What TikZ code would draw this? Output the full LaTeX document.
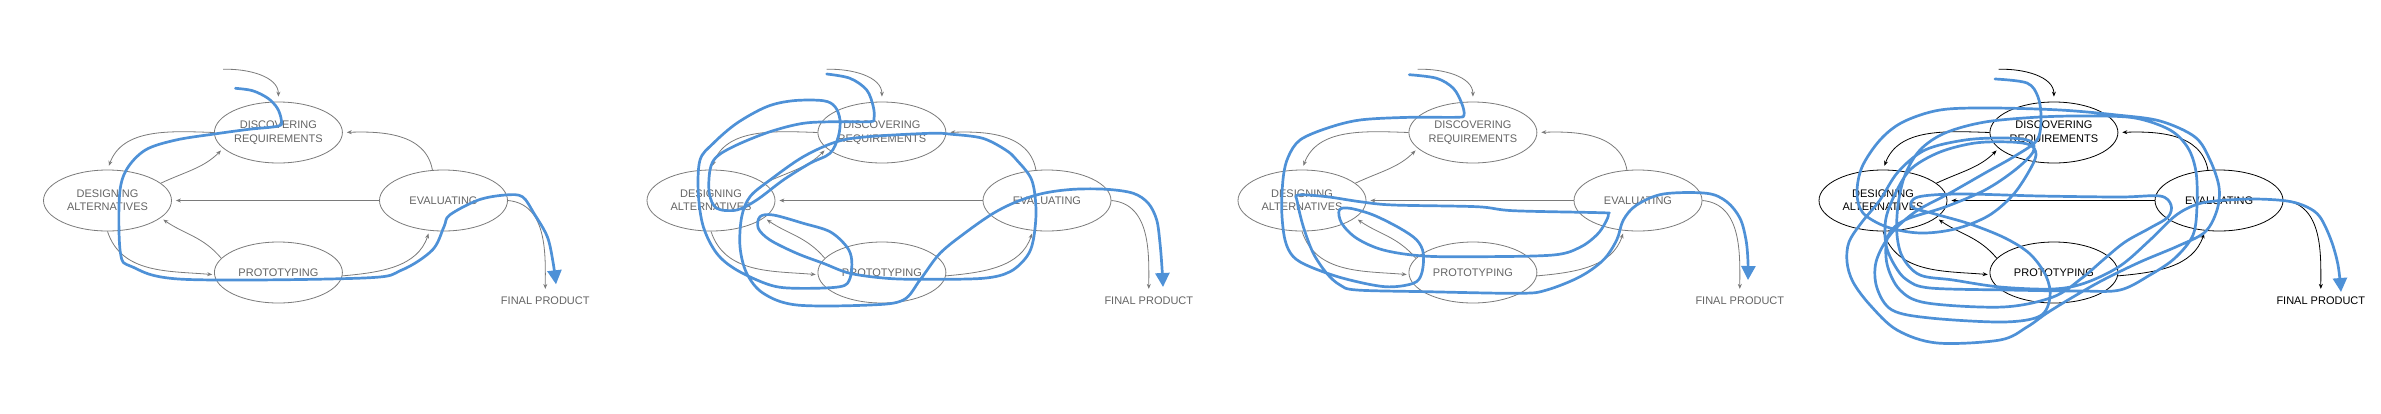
\documentclass[tikz,border=0pt]{standalone}
\usepackage{fontspec}
\setmainfont{Liberation Sans}
\usepackage{tikz}
\usetikzlibrary{shapes.geometric, arrows.meta}
\definecolor{linegray}{RGB}{122,122,122}
\definecolor{textgray}{RGB}{100,100,100}
\definecolor{penblue}{RGB}{78,145,215}
\tikzstyle{stage} = [ellipse, minimum width=128pt, minimum height=61pt, inner sep=0pt, align=center, line width=0.8pt, font=\fontsize{11}{13.4}\selectfont]
\tikzstyle{flow} = [line width=0.8pt, -{Stealth[length=5pt,width=4pt]}]
\tikzstyle{scribble} = [penblue, line width=2.7pt, line cap=round, line join=round, -{Triangle[length=14pt,width=14pt]}]

\begin{document}
\begin{tikzpicture}[x=1pt,y=1pt]
\useasboundingbox (0,0) rectangle (2381,-413);
% the same cycle four times, the last one in black
\foreach \i/\dx/\lc/\tc in {1/0/linegray/textgray, 2/603.5/linegray/textgray, 3/1194.5/linegray/textgray, 4/1775.5/black/black} {
\begin{scope}[xshift=\dx pt]
\node (disc\i) [stage, draw=\lc, text=\tc] at (278.4,-132.5) {DISCOVERING\\REQUIREMENTS};
\node (design\i) [stage, draw=\lc, text=\tc] at (107.5,-200.5) {DESIGNING\\ALTERNATIVES};
\node (eval\i) [stage, draw=\lc, text=\tc] at (443.5,-200.5) {EVALUATING};
\node (proto\i) [stage, draw=\lc, text=\tc] at (278.4,-272.5) {PROTOTYPING};
\node (final\i) [text=\tc, inner sep=0pt, font=\fontsize{11}{13.4}\selectfont] at (545.3,-301) {FINAL PRODUCT};
\coordinate (in\i) at (223.1,-69.3);
\draw [flow, \lc, shorten >=5pt] (in\i) to[out=2,in=90] (disc\i.north);
\draw [flow, \lc, shorten >=4pt] (disc\i.west) to[out=178,in=70] (design\i.north);
\draw [flow, \lc, shorten >=3pt] (design\i.18) to[out=25,in=225] (disc\i.196);
\draw [flow, \lc, shorten >=4pt] (eval\i.110) to[out=100,in=2] (disc\i.east);
\draw [flow, \lc, shorten >=4pt] (eval\i.west) -- (design\i.east);
\draw [flow, \lc, shorten >=2pt] (design\i.south) to[out=-72,in=175] (proto\i.182);
\draw [flow, \lc, shorten >=3pt] (proto\i.166) to[out=130,in=-35] (design\i.-18);
\draw [flow, \lc, shorten >=3pt] (proto\i.-3) to[out=5,in=-108] (eval\i.-115);
\draw [flow, \lc, shorten >=8pt] (eval\i.east) to[out=-5,in=90] (final\i.north);
\end{scope}
}

% pen traces
\draw [scribble] plot[smooth, tension=0.55] coordinates {(235.4,-88.3) (252.6,-90.7) (268,-98.3) (277.4,-108.3) (281.3,-120) (278.6,-126) (248.8,-129.3) (214.3,-134) (176,-140) (145.4,-150) (126.3,-170) (119.4,-196.7) (120.5,-253.3) (132,-266.7) (183.7,-279.3) (363.6,-278) (401.8,-270) (432.4,-250) (444,-226.7) (449.7,-215) (478.4,-200) (505.2,-195) (522.4,-196.7) (533.9,-213.3) (547.3,-236.7) (553,-262) (556,-284.3)};

\draw [scribble] plot[smooth, tension=0.55] coordinates {(826.7,-74) (850,-78.3) (866.7,-90) (873.3,-106.7) (874,-118.3) (870,-121.7) (836.7,-121.7) (803.3,-123.3) (770,-131.7) (736.7,-145) (716.7,-156.7) (710,-170) (709.3,-193.3) (716.7,-208.3) (736.7,-210) (756.7,-200) (783.3,-180) (810,-163.3) (830,-153.3) (838.3,-136.7) (840,-120) (835,-106.7) (823.3,-100.7) (793.3,-100.7) (766.7,-106.7) (736.7,-123.3) (713.3,-143.3) (700,-160) (698.3,-193.3) (703.3,-226.7) (716.7,-253.3) (736.7,-270) (770,-285) (796.7,-288.3) (840,-286.7) (850,-278.3) (851.7,-260) (846.7,-246.7) (830,-231.7) (803.3,-223.3) (773.3,-215) (760,-216.7) (758.3,-228.3) (770,-240) (796.7,-253.3) (823.3,-263.3) (850,-273.3) (886.7,-278.3) (923.3,-279.3) (983,-278.3) (1010,-271.7) (1026.7,-256.7) (1033.3,-240) (1036,-210) (1031.7,-180) (1016.7,-160) (1005.7,-150) (982.7,-138.3) (952,-134.3) (930,-133.3) (868,-136.7) (836.7,-141.7) (803.3,-156.7) (770,-180) (750,-196.7) (741.7,-216.7) (740,-246.7) (746.7,-273.3) (763.3,-293.3) (796.7,-305) (870,-305) (903.3,-300) (920,-280) (940,-253.3) (966.7,-231.7) (993.3,-213.3) (1016.7,-201.7) (1043.3,-193.3) (1073.3,-189.3) (1106.7,-189.3) (1133.3,-193.3) (1148.3,-203.3) (1156.7,-220) (1160,-243.3) (1162,-268) (1163,-287)};

\draw [scribble] plot[smooth, tension=0.55] coordinates {(1409.3,-74.7) (1436.7,-78.3) (1453.3,-88.3) (1461.7,-103.3) (1464,-115) (1456.7,-117.3) (1410,-117.3) (1360,-120) (1326.7,-128.3) (1300,-140) (1288.3,-156.7) (1283.3,-176.7) (1281.7,-210) (1285,-240) (1293.3,-256.7) (1310,-266.7) (1343.3,-278.3) (1385,-286.7) (1413.3,-283.3) (1421.7,-273.3) (1423.3,-253.3) (1416.7,-240) (1400,-228.3) (1373.3,-215) (1350,-208.3) (1339.3,-210) (1341.7,-223.3) (1356.7,-238.3) (1383.3,-250) (1423.3,-256) (1480,-256.7) (1553.3,-255) (1580,-247.3) (1596.7,-235) (1605,-223.3) (1608.3,-214) (1600,-212.7) (1513.3,-210.7) (1476.7,-206.7) (1393.3,-205) (1360,-201.7) (1326.7,-196.7) (1298.3,-195) (1297.3,-201.7) (1303.3,-226.7) (1313.3,-253.3) (1326.7,-273.3) (1340,-285) (1356.7,-290) (1426.7,-291.7) (1520,-293.3) (1546.7,-290) (1580,-276.7) (1603.3,-260) (1616.7,-240) (1623.3,-220) (1636.7,-205) (1663.3,-194) (1706.7,-193.3) (1726.7,-201.7) (1740,-218.3) (1746,-240) (1748,-262) (1748,-280)};

\draw [scribble] plot[smooth, tension=0.55] coordinates {(1995,-79) (2027,-83) (2038,-97) (2041,-118) (2037,-140) (2015,-156) (1985,-173) (1950,-193) (1915,-212) (1890,-235) (1876,-262) (1877,-288) (1892,-310) (1930,-318) (2003,-322) (2040,-316) (2050,-297) (2046,-276) (2030,-254) (2005,-238) (1970,-224) (1935,-214) (1912,-207) (1918,-197) (1960,-194) (2040,-196) (2120,-197) (2160,-196) (2171,-205) (2168,-217) (2150,-228) (2125,-242) (2103,-260) (2082,-278) (2053,-297) (2003,-307) (1927,-303) (1900,-290) (1887,-264) (1888,-236) (1905,-220) (1945,-207) (1985,-190) (2015,-170) (2033,-152) (2030,-141) (2005,-138) (1965,-140) (1925,-150) (1898,-172) (1880,-200) (1862,-222) (1849,-242) (1847,-262) (1853,-282) (1870,-305) (1897,-330) (1937,-343) (2000,-340) (2027,-327) (2047,-313) (2073,-297) (2103,-280) (2140,-262) (2178,-246) (2205,-232) (2217,-210) (2219,-187) (2210,-160) (2195,-137) (2160,-121) (2117,-115) (2060,-110) (1990,-108) (1940,-110) (1903,-122) (1880,-140) (1862,-167) (1857,-193) (1863,-213) (1887,-227) (1920,-233) (1955,-229) (1988,-216) (2012,-196) (2028,-173) (2036,-155) (2030,-145) (2010,-142) (1975,-143) (1940,-152) (1912,-168) (1897,-190) (1886,-218) (1886,-245) (1895,-266) (1907,-280) (1930,-288) (2007,-290) (2080,-291) (2120,-290) (2150,-275) (2175,-258) (2193,-235) (2197,-205) (2196,-172) (2188,-148) (2170,-130) (2135,-118) (2090,-116) (2040,-117) (1985,-122) (1945,-133) (1920,-150) (1905,-175) (1898,-205) (1897,-235) (1903,-258) (1920,-275) (1953,-280) (2000,-287) (2053,-289) (2085,-283) (2120,-266) (2150,-240) (2175,-216) (2195,-205) (2215,-201) (2253,-199) (2287,-201) (2307,-207) (2320,-217) (2331,-240) (2338,-265) (2341,-292)};
\end{tikzpicture}
\end{document}
